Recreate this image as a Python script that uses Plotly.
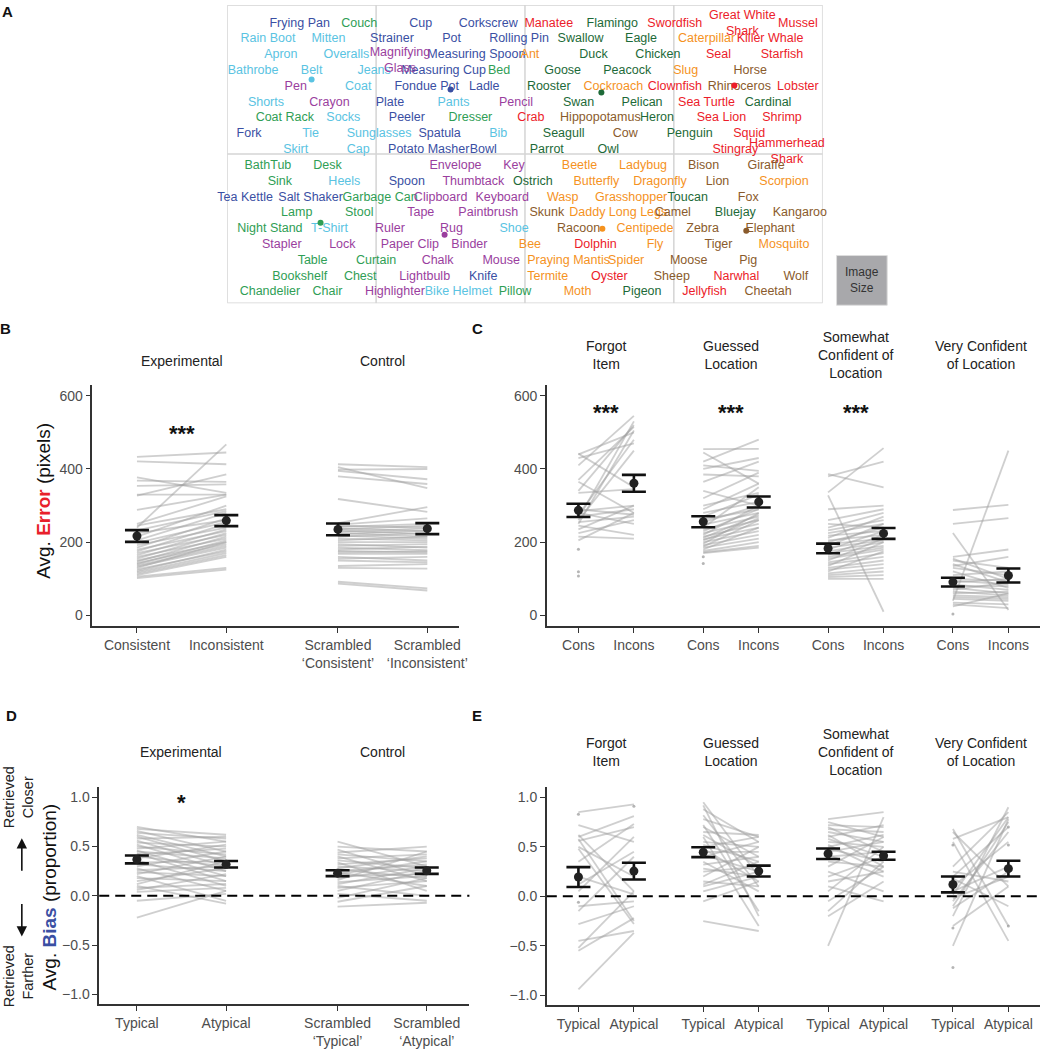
import plotly.graph_objects as go

W, H = 1050, 1049
FONT = "Liberation Sans, Arial, Helvetica, sans-serif"


def px(x):
    return x / W


def py(y):
    return 1 - y / H


# ---------------- Panel A: word map (map coordinates 0-600 x 0-300) ----------------
kitchen_words = ["Frying Pan", "Cup", "Corkscrew", "Strainer", "Pot", "Rolling Pin", "Measuring Spoon",
                 "Measuring Cup", "Fondue Pot", "Ladle", "Plate", "Peeler", "Fork", "Spatula",
                 "Potato Masher", "Bowl", "Spoon", "Tea Kettle", "Salt Shaker", "Knife"]
kitchen_x = [73, 195, 263, 166, 226, 294, 251, 218, 201, 259, 164, 181, 22, 214, 203, 258, 181, 18, 84, 258]
kitchen_y = [19, 19, 19, 34, 34, 34, 50, 66, 82, 82, 98, 114, 130, 130, 146, 146, 178, 194, 194, 273]

clothing_words = ["Rain Boot", "Mitten", "Apron", "Overalls", "Bathrobe", "Belt", "Jeans", "Coat", "Shorts",
                  "Pants", "Socks", "Tie", "Sunglasses", "Bib", "Skirt", "Cap", "Heels", "T-Shirt", "Shoe",
                  "Bike Helmet"]
clothing_x = [41, 102, 54, 120, 26, 85, 148, 132, 39, 228, 117, 84, 153, 273, 69, 132, 118, 103, 289, 233]
clothing_y = [34, 34, 50, 50, 66, 66, 66, 82, 98, 98, 114, 130, 130, 130, 146, 146, 178, 225, 225, 289]

furniture_words = ["Couch", "Bed", "Coat Rack", "Dresser", "BathTub", "Desk", "Sink", "Garbage Can", "Lamp",
                   "Stool", "Night Stand", "Table", "Curtain", "Bookshelf", "Chest", "Chandelier", "Chair",
                   "Pillow"]
furniture_x = [133, 274, 58, 245, 41, 101, 53, 154, 70, 133, 43, 86, 150, 73, 134, 43, 101, 290]
furniture_y = [19, 66, 114, 114, 162, 162, 178, 194, 209, 209, 225, 257, 257, 273, 273, 289, 289, 289]

office_words = ["Magnifying<br>Glass", "Pen", "Crayon", "Pencil", "Envelope", "Key", "Thumbtack", "Clipboard",
                "Keyboard", "Tape", "Paintbrush", "Ruler", "Rug", "Stapler", "Lock", "Paper Clip", "Binder",
                "Chalk", "Mouse", "Lightbulb", "Highlighter"]
office_x = [174, 69, 103, 291, 230, 289, 248, 215, 277, 195, 263, 164, 226, 55, 116, 184, 244, 212, 276, 199, 169]
office_y = [56, 82, 98, 98, 162, 162, 178, 194, 194, 209, 209, 225, 225, 241, 241, 241, 241, 257, 257, 273, 289]

bird_words = ["Flamingo", "Swallow", "Eagle", "Duck", "Chicken", "Goose", "Peacock", "Rooster", "Swan",
              "Pelican", "Heron", "Seagull", "Penguin", "Cardinal", "Parrot", "Owl", "Ostrich", "Toucan",
              "Bluejay", "Pigeon"]
bird_x = [388, 356, 417, 369, 434, 338, 403, 324, 354, 418, 433, 339, 466, 545, 322, 384, 308, 464, 512, 418]
bird_y = [19, 34, 34, 50, 50, 66, 66, 82, 98, 98, 114, 130, 130, 98, 146, 146, 178, 194, 209, 289]

sea_words = ["Manatee", "Swordfish", "Great White<br>Shark", "Mussel", "Killer Whale", "Seal", "Starfish",
             "Clownfish", "Lobster", "Sea Turtle", "Sea Lion", "Shrimp", "Crab", "Squid", "Stingray",
             "Hammerhead<br>Shark", "Dolphin", "Oyster", "Narwhal", "Jellyfish"]
sea_x = [324, 451, 519, 575, 547, 495, 559, 451, 575, 483, 498, 559, 306, 526, 512, 564, 371, 385, 513, 481]
sea_y = [19, 19, 19, 19, 34, 50, 50, 82, 82, 98, 114, 114, 114, 130, 146, 148, 241, 273, 273, 289]

insect_words = ["Ant", "Caterpillar", "Slug", "Cockroach", "Beetle", "Ladybug", "Butterfly", "Dragonfly",
                "Scorpion", "Wasp", "Grasshopper", "Daddy Long Legs", "Centipede", "Bee", "Fly", "Mosquito",
                "Praying Mantis", "Spider", "Termite", "Moth"]
insect_x = [305, 483, 462, 389, 355, 419, 372, 436, 561, 338, 407, 394, 421, 305, 431, 561, 344, 402, 323, 353]
insect_y = [50, 34, 66, 82, 162, 162, 178, 178, 178, 194, 194, 209, 225, 241, 241, 241, 257, 257, 273, 289]

mammal_words = ["Horse", "Rhinoceros", "Hippopotamus", "Cow", "Bison", "Giraffe", "Lion", "Fox", "Skunk",
                "Camel", "Kangaroo", "Racoon", "Zebra", "Elephant", "Tiger", "Moose", "Pig", "Sheep", "Wolf",
                "Cheetah"]
mammal_x = [527, 516, 376, 401, 480, 543, 494, 525, 322, 449, 577, 354, 479, 547, 495, 465, 525, 448, 573, 545]
mammal_y = [66, 82, 114, 130, 162, 162, 178, 194, 209, 209, 209, 225, 225, 225, 241, 257, 257, 273, 273, 289]

category_colors = ["#3a4fa3", "#5ac3e2", "#2f9e55", "#9a3e9e", "#1d6a38", "#ec1c2a", "#f5921e", "#8a5b2c"]
centroid_x = [225, 85, 94, 219, 377, 511, 378, 523]
centroid_y = [85, 75, 219, 231, 88, 81, 225, 227]

# ---------------- Panel B: error, experimental / control ----------------
B_labels = ["Consistent", "Inconsistent", "Scrambled<br>‘Consistent’", "Scrambled<br>‘Inconsistent’"]
B_exp_cons = [433, 421, 377, 368, 354, 330, 327, 288, 250, 245, 240, 232, 225, 215, 205, 198, 192, 185, 180,
              175, 170, 165, 160, 155, 150, 147, 143, 140, 137, 133, 130, 126, 122, 118, 114, 110, 106, 102]
B_exp_incons = [445, 413, 335, 365, 358, 330, 385, 330, 325, 290, 467, 285, 260, 300, 280, 255, 240, 265, 230,
                250, 220, 235, 210, 225, 200, 215, 195, 205, 190, 185, 200, 175, 180, 170, 165, 160, 130, 125]
B_ctrl_cons = [413, 405, 398, 395, 380, 318, 252, 248, 245, 242, 238, 235, 232, 228, 225, 222, 218, 215, 210,
               205, 200, 195, 190, 185, 180, 176, 172, 168, 160, 155, 150, 135, 130, 92, 87]
B_ctrl_incons = [405, 348, 400, 372, 359, 283, 296, 265, 240, 250, 230, 245, 222, 238, 215, 232, 210, 225, 205,
                 215, 200, 185, 195, 178, 188, 172, 175, 168, 150, 160, 145, 140, 128, 74, 68]
B_means = [217, 259, 235, 237]
B_se = [16, 15, 16, 15]

# ---------------- Panel C: error by confidence ----------------
C_groups = ["Forgot<br>Item", "Guessed<br>Location", "Somewhat<br>Confident of<br>Location",
            "Very Confident<br>of Location"]
C_labels = ["Cons", "Incons"] * 4
C_forgot_cons = [442, 440, 430, 410, 370, 365, 340, 335, 290, 285, 280, 275, 270, 265, 260, 255, 250, 245,
                 235, 225, 215, 205]
C_forgot_incons = [350, 500, 470, 545, 515, 280, 520, 345, 275, 300, 250, 480, 290, 530, 450, 270, 505, 220,
                   300, 260, 210, 280]
C_guessed_cons = [454, 445, 420, 410, 400, 385, 365, 340, 320, 300, 290, 280, 270, 262, 255, 248, 240, 235,
                  230, 225, 220, 215, 212, 208, 205, 200, 196, 192, 188, 185, 180, 176, 172, 170]
C_guessed_incons = [455, 360, 480, 395, 430, 380, 420, 300, 390, 335, 360, 310, 330, 290, 300, 280, 350, 270,
                    290, 260, 300, 250, 275, 240, 265, 230, 280, 220, 260, 210, 240, 200, 190, 185]
C_somewhat_cons = [386, 380, 336, 328, 290, 260, 250, 240, 232, 225, 218, 212, 205, 200, 195, 190, 185, 180,
                   175, 170, 165, 160, 155, 150, 145, 140, 135, 130, 125, 120, 115, 110, 105, 100]
C_somewhat_incons = [350, 420, 457, 10, 300, 290, 240, 280, 260, 250, 230, 270, 220, 240, 210, 250, 205, 230,
                     200, 190, 220, 185, 180, 210, 170, 160, 200, 150, 140, 175, 130, 120, 110, 100]
C_very_cons = [288, 250, 225, 160, 155, 150, 140, 135, 130, 120, 110, 100, 95, 90, 85, 80, 75, 70, 65, 60, 55,
               50, 45, 40, 35, 30, 25]
C_very_incons = [302, 266, 15, 180, 100, 130, 90, 160, 110, 75, 120, 95, 85, 100, 70, 80, 60, 90, 55, 65, 50,
                 45, 40, 450, 30, 20, 60]
C_forgot_cons_only = [181, 119, 108]
C_guessed_cons_only = [160, 142]
C_very_cons_only = [4]
C_means = [287, 361, 256, 310, 183, 224, 91, 109]
C_se = [18, 23, 15, 15, 13, 15, 12, 19]

# ---------------- Panel D: bias, experimental / control ----------------
D_labels = ["Typical", "Atypical", "Scrambled<br>‘Typical’", "Scrambled<br>‘Atypical’"]
D_exp_typ = [0.70, 0.68, 0.66, 0.64, 0.62, 0.60, 0.58, 0.56, 0.54, 0.52, 0.50, 0.48, 0.46, 0.45, 0.43, 0.42,
             0.40, 0.38, 0.36, 0.34, 0.32, 0.30, 0.28, 0.26, 0.24, 0.22, 0.20, 0.18, 0.15, 0.12, 0.10, 0.08,
             0.06, 0.04, -0.05, -0.22]
D_exp_atyp = [0.55, 0.62, 0.45, 0.58, 0.40, 0.35, 0.60, 0.30, 0.50, 0.25, 0.42, 0.55, 0.20, 0.38, 0.15, 0.48,
              0.30, 0.52, 0.10, 0.35, 0.25, 0.45, 0.05, 0.30, 0.20, 0.40, -0.05, 0.15, 0.28, 0.35, -0.08, 0.12,
              0.22, 0.08, 0.02, 0.05]
D_ctrl_typ = [0.55, 0.50, 0.47, 0.44, 0.42, 0.40, 0.38, 0.36, 0.34, 0.32, 0.30, 0.28, 0.27, 0.25, 0.24, 0.22,
              0.20, 0.18, 0.16, 0.14, 0.12, 0.10, 0.08, 0.05, 0.02, -0.02, -0.06, -0.11]
D_ctrl_atyp = [0.30, 0.45, 0.20, 0.50, 0.35, 0.15, 0.42, 0.28, 0.05, 0.38, 0.25, 0.40, 0.18, 0.32, 0.10, 0.35,
               0.22, 0.30, 0.45, 0.20, 0.28, 0.00, 0.15, 0.25, -0.05, 0.18, 0.10, -0.07]
D_means = [0.37, 0.32, 0.23, 0.255]
D_se = [0.04, 0.033, 0.03, 0.032]

# ---------------- Panel E: bias by confidence ----------------
E_labels = ["Typical", "Atypical"] * 4
E_forgot_typ = [0.85, 0.72, 0.62, 0.60, 0.58, 0.56, 0.50, 0.48, 0.35, 0.20, 0.12, 0.05, -0.10, -0.15, -0.28,
                -0.45, -0.52, -0.55, -0.94]
E_forgot_atyp = [0.93, 0.55, 0.05, 0.81, -0.25, 0.70, 0.20, -0.28, 0.73, 0.02, 0.45, 0.60, -0.05, 0.40, -0.10,
                 -0.35, 0.05, -0.22, -0.37]
E_guessed_typ = [0.95, 0.92, 0.88, 0.82, 0.78, 0.72, 0.70, 0.65, 0.62, 0.60, 0.55, 0.52, 0.50, 0.48, 0.45,
                 0.42, 0.40, 0.35, 0.32, 0.28, 0.25, 0.20, 0.15, 0.12, 0.10, 0.05, -0.05, -0.25]
E_guessed_atyp = [0.20, -0.20, 0.55, 0.10, 0.60, -0.15, 0.40, 0.62, 0.30, -0.30, 0.50, 0.35, 0.60, 0.15, 0.45,
                  0.25, 0.55, 0.05, 0.40, 0.20, 0.30, 0.50, 0.10, 0.35, 0.25, 0.20, 0.15, -0.35]
E_somewhat_typ = [0.78, 0.75, 0.72, 0.70, 0.68, 0.65, 0.62, 0.60, 0.58, 0.55, 0.52, 0.50, 0.48, 0.45, 0.42,
                  0.40, 0.35, 0.30, 0.25, 0.20, 0.15, 0.10, 0.05, -0.05, -0.15, -0.20, -0.50]
E_somewhat_atyp = [0.85, 0.60, 0.70, 0.45, 0.65, 0.55, 0.30, 0.72, 0.40, 0.50, 0.25, 0.62, 0.35, 0.55, 0.20,
                   0.45, 0.30, 0.60, 0.05, 0.40, 0.25, -0.05, 0.50, 0.30, 0.35, 0.15, 0.80]
E_very_typ = [0.68, 0.65, 0.58, 0.55, 0.30, 0.25, 0.20, 0.18, 0.10, 0.05, 0.02, -0.02, -0.05, -0.10, -0.12,
              -0.20, -0.30, -0.50]
E_very_atyp = [-0.30, 0.10, 0.80, -0.45, 0.85, 0.15, 0.70, -0.10, 0.55, 0.30, 0.80, 0.20, 0.65, 0.75, 0.25,
               0.90, 0.10, 0.78]
E_forgot_typ_only = [0.83, -0.06]
E_forgot_atyp_only = [0.91]
E_very_typ_only = [0.52, -0.32, -0.72]
E_very_atyp_only = [0.70, 0.52, -0.30]
E_means = [0.195, 0.255, 0.446, 0.255, 0.43, 0.41, 0.12, 0.28]
E_se = [0.10, 0.085, 0.05, 0.055, 0.053, 0.04, 0.08, 0.08]

# ---------------- build figure ----------------
POS4 = [1, 2, 3.25, 4.25]
POS8 = [1, 2, 3.25, 4.25, 5.5, 6.5, 7.75, 8.75]
LINE_COL = "rgba(160,160,160,0.5)"

fig = go.Figure()

# Panel A text
cats = [(kitchen_words, kitchen_x, kitchen_y), (clothing_words, clothing_x, clothing_y),
        (furniture_words, furniture_x, furniture_y), (office_words, office_x, office_y),
        (bird_words, bird_x, bird_y), (sea_words, sea_x, sea_y), (insect_words, insect_x, insect_y),
        (mammal_words, mammal_x, mammal_y)]
for (words, xs, ys), col in zip(cats, category_colors):
    fig.add_trace(go.Scatter(x=xs, y=ys, text=words, mode="text", textposition="middle center",
                             textfont=dict(family=FONT, size=12.5, color=col), cliponaxis=False,
                             hoverinfo="skip", showlegend=False, xaxis="x", yaxis="y"))
fig.add_trace(go.Scatter(x=centroid_x, y=centroid_y, mode="markers",
                         marker=dict(color=category_colors, size=6), hoverinfo="skip",
                         showlegend=False, xaxis="x", yaxis="y"))


def pair_lines(a, b, xa, xb, xax, yax):
    xs, ys = [], []
    for va, vb in zip(a, b):
        xs += [xa, xb, None]
        ys += [va, vb, None]
    fig.add_trace(go.Scatter(x=xs, y=ys, mode="lines", line=dict(color=LINE_COL, width=1.8),
                             hoverinfo="skip", showlegend=False, xaxis=xax, yaxis=yax))


def single_pts(vals, xpos, xax, yax):
    fig.add_trace(go.Scatter(x=[xpos] * len(vals), y=vals, mode="markers",
                             marker=dict(color="rgba(150,150,150,0.7)", size=3),
                             hoverinfo="skip", showlegend=False, xaxis=xax, yaxis=yax))


def means(pos, m, se, xax, yax):
    fig.add_trace(go.Scatter(x=pos, y=m, mode="markers", marker=dict(color="#222222", size=9),
                             error_y=dict(type="data", array=se, color="#111111", thickness=2.6, width=12),
                             hoverinfo="skip", showlegend=False, xaxis=xax, yaxis=yax))


# Panel B
pair_lines(B_exp_cons, B_exp_incons, POS4[0], POS4[1], "x2", "y2")
pair_lines(B_ctrl_cons, B_ctrl_incons, POS4[2], POS4[3], "x2", "y2")
means(POS4, B_means, B_se, "x2", "y2")

# Panel C
C_pairs = [(C_forgot_cons, C_forgot_incons), (C_guessed_cons, C_guessed_incons),
           (C_somewhat_cons, C_somewhat_incons), (C_very_cons, C_very_incons)]
for k, (a, b) in enumerate(C_pairs):
    pair_lines(a, b, POS8[2 * k], POS8[2 * k + 1], "x3", "y3")
single_pts(C_forgot_cons_only, POS8[0], "x3", "y3")
single_pts(C_guessed_cons_only, POS8[2], "x3", "y3")
single_pts(C_very_cons_only, POS8[6], "x3", "y3")
means(POS8, C_means, C_se, "x3", "y3")

# Panel D
pair_lines(D_exp_typ, D_exp_atyp, POS4[0], POS4[1], "x4", "y4")
pair_lines(D_ctrl_typ, D_ctrl_atyp, POS4[2], POS4[3], "x4", "y4")
means(POS4, D_means, D_se, "x4", "y4")

# Panel E
E_pairs = [(E_forgot_typ, E_forgot_atyp), (E_guessed_typ, E_guessed_atyp),
           (E_somewhat_typ, E_somewhat_atyp), (E_very_typ, E_very_atyp)]
for k, (a, b) in enumerate(E_pairs):
    pair_lines(a, b, POS8[2 * k], POS8[2 * k + 1], "x5", "y5")
single_pts(E_forgot_typ_only, POS8[0], "x5", "y5")
single_pts(E_forgot_atyp_only, POS8[1], "x5", "y5")
single_pts(E_very_typ_only, POS8[6], "x5", "y5")
single_pts(E_very_atyp_only, POS8[7], "x5", "y5")
means(POS8, E_means, E_se, "x5", "y5")

TICKFONT = dict(family=FONT, size=14, color="#4d4d4d")


def xax(domain, rng, vals, labels, anchor):
    return dict(domain=domain, range=rng, tickvals=vals, ticktext=labels, anchor=anchor,
                showline=True, linecolor="#333333", linewidth=1.5, ticks="outside", ticklen=5,
                tickcolor="#333333", tickwidth=1.2, showgrid=False, zeroline=False, tickfont=TICKFONT,
                fixedrange=True)


def yax(domain, rng, vals, fmt, anchor):
    return dict(domain=domain, range=rng, tickvals=vals, tickformat=fmt, anchor=anchor,
                showline=True, linecolor="#333333", linewidth=1.5, ticks="outside", ticklen=5,
                tickcolor="#333333", tickwidth=1.2, showgrid=False, zeroline=False, tickfont=TICKFONT,
                fixedrange=True)


fig.update_layout(
    width=W, height=H, autosize=False,
    margin=dict(l=0, r=0, t=0, b=0),
    paper_bgcolor="white", plot_bgcolor="white",
    font=dict(family=FONT, color="#222222"),
    showlegend=False,
    xaxis=dict(domain=[px(229), px(829)], range=[0, 600], visible=False, anchor="y", fixedrange=True),
    yaxis=dict(domain=[py(305), py(5)], range=[300, 0], visible=False, anchor="x", fixedrange=True),
    xaxis2=xax([px(93), px(463)], [0.5, 4.61], POS4, B_labels, "y2"),
    yaxis2=yax([py(630), py(387)], [-30, 630], [0, 200, 400, 600], "d", "x2"),
    xaxis3=xax([px(551), px(1048)], [0.43, 9.32], POS8, C_labels, "y3"),
    yaxis3=yax([py(630), py(387)], [-30, 630], [0, 200, 400, 600], "d", "x3"),
    xaxis4=xax([px(100), px(473)], [0.578, 4.728], POS4, D_labels, "y4"),
    yaxis4=yax([py(1010), py(792)], [-1.1, 1.1], [-1, -0.5, 0, 0.5, 1], ".1f", "x4"),
    xaxis5=xax([px(551), px(1048)], [0.43, 9.32], POS8, E_labels, "y5"),
    yaxis5=yax([py(1011), py(792)], [-1.1, 1.1], [-1, -0.5, 0, 0.5, 1], ".1f", "x5"),
)

shapes = []
# Panel A frame and grid
GRID = "#d4d4d4"
shapes.append(dict(type="rect", xref="x", yref="y", x0=0, x1=600, y0=0, y1=300,
                   line=dict(color=GRID, width=1.5), layer="below"))
for gx in [150, 300, 450]:
    shapes.append(dict(type="line", xref="x", yref="y", x0=gx, x1=gx, y0=0, y1=300,
                       line=dict(color=GRID, width=1.5), layer="below"))
shapes.append(dict(type="line", xref="x", yref="y", x0=0, x1=600, y0=150, y1=150,
                   line=dict(color=GRID, width=1.5), layer="below"))
# Image size box
shapes.append(dict(type="rect", xref="paper", yref="paper", x0=px(843), x1=px(894), y0=py(307), y1=py(257),
                   fillcolor="#a8a8ab", line=dict(color="#dddddd", width=1)))
# dashed zero lines
for xr, yr in [("x4", "y4"), ("x5", "y5")]:
    shapes.append(dict(type="line", xref=xr + " domain", yref=yr, x0=0, x1=1, y0=0, y1=0,
                       line=dict(color="black", width=2, dash="10px,6px"), layer="above"))
fig.update_layout(shapes=shapes)

ann = []


def txt(x, y, s, size=14, color="#222222", xref="paper", yref="paper", bold=False, angle=0):
    ann.append(dict(x=x, y=y, xref=xref, yref=yref, text=("<b>%s</b>" % s) if bold else s,
                    showarrow=False, xanchor="center", yanchor="middle", textangle=angle,
                    font=dict(family=FONT, size=size, color=color)))


# panel letters
for letter, lx, ly in [("A", 8, 12), ("B", 6, 330), ("C", 481, 330), ("D", 12, 720), ("E", 481, 720)]:
    txt(px(lx), py(ly), letter, size=15, color="#111111", bold=True)

txt(px(868.5), py(282), "Image<br>Size", size=12, color="#333333")

# group titles B / D
for (yref_ax, ty) in [("x2", 363), ("x4", 756)]:
    txt(1.5, py(ty), "Experimental", xref=yref_ax)
    txt(3.75, py(ty), "Control", xref=yref_ax)
# group titles C / E
for (xr, ty) in [("x3", 357), ("x5", 756)]:
    for k, g in enumerate(C_groups):
        txt((POS8[2 * k] + POS8[2 * k + 1]) / 2, py(ty), g, xref=xr)

# significance stars
txt(1.5, 497, "***", size=22, color="#111111", xref="x2", yref="y2", bold=True)
for k in range(3):
    txt((POS8[2 * k] + POS8[2 * k + 1]) / 2, 553, "***", size=22, color="#111111", xref="x3", yref="y3",
        bold=True)
txt(1.5, 0.95, "*", size=22, color="#111111", xref="x4", yref="y4", bold=True)

# y-axis titles
txt(px(43), py(504), "Avg. <b><span style='color:#e8202a'>Error</span></b> (pixels)", size=19,
    color="#111111", angle=-90)
txt(px(50), py(902), "Avg. <b><span style='color:#3a4fa3'>Bias</span></b> (proportion)", size=19,
    color="#111111", angle=-90)
txt(px(19), py(802), "Retrieved<br>Closer", size=14.5, color="#222222", angle=-90)
txt(px(19), py(982), "Retrieved<br>Farther", size=14.5, color="#222222", angle=-90)

# arrows
ann.append(dict(x=px(22), y=py(843), xref="paper", yref="paper", text="", showarrow=True,
                ax=0, ay=34, arrowhead=2, arrowsize=1.3, arrowwidth=1.6, arrowcolor="#111111"))
ann.append(dict(x=px(22), y=py(942), xref="paper", yref="paper", text="", showarrow=True,
                ax=0, ay=-34, arrowhead=2, arrowsize=1.3, arrowwidth=1.6, arrowcolor="#111111"))

fig.update_layout(annotations=ann)

fig.write_html("out.html", config={"displayModeBar": False},
               post_script="document.body.style.margin='0';document.body.style.overflow='hidden';")
